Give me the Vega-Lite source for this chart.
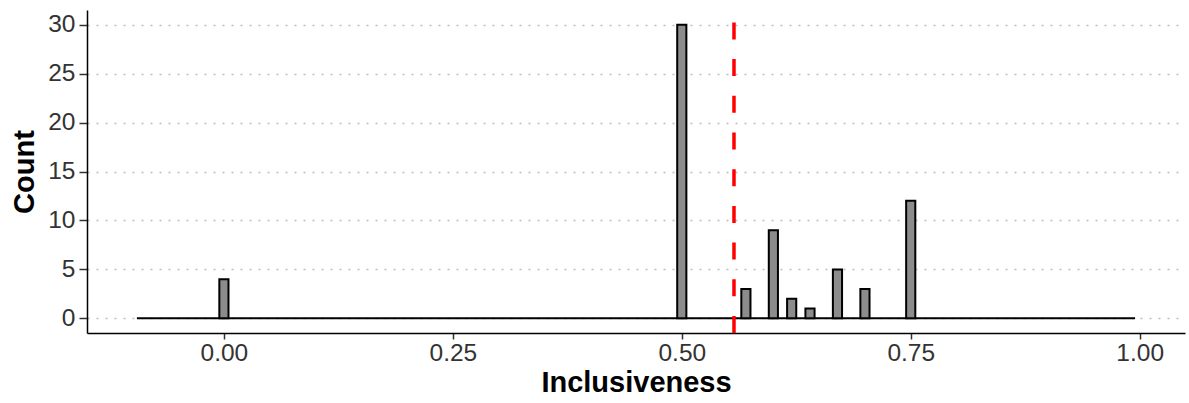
{
  "$schema": "https://vega.github.io/schema/vega-lite/v6.json",
  "width": 1098,
  "height": 323,
  "autosize": "none",
  "padding": {"left": 87, "top": 10, "right": 4, "bottom": 70},
  "config": {
    "view": {"stroke": null},
    "font": "Liberation Sans",
    "axis": {
      "domainColor": "black",
      "domainWidth": 1.5,
      "tickColor": "#333333",
      "tickWidth": 1.5,
      "labelFont": "Liberation Sans",
      "labelFontSize": 24.5,
      "labelColor": "#333333",
      "titleFont": "Liberation Sans",
      "titleFontSize": 29,
      "titleFontWeight": "bold",
      "titleColor": "black"
    }
  },
  "datasets": {
    "bins": [
      {"bin_start": -0.005, "bin_end": 0.005, "count": 4},
      {"bin_start": 0.495, "bin_end": 0.505, "count": 30},
      {"bin_start": 0.565, "bin_end": 0.575, "count": 3},
      {"bin_start": 0.595, "bin_end": 0.605, "count": 9},
      {"bin_start": 0.615, "bin_end": 0.625, "count": 2},
      {"bin_start": 0.635, "bin_end": 0.645, "count": 1},
      {"bin_start": 0.665, "bin_end": 0.675, "count": 5},
      {"bin_start": 0.695, "bin_end": 0.705, "count": 3},
      {"bin_start": 0.745, "bin_end": 0.755, "count": 12}
    ],
    "range": [{"bin_start": -0.095, "bin_end": 0.995, "count": 0}],
    "mean": [{"mean": 0.557}]
  },
  "layer": [
    {
      "data": {"name": "range"},
      "mark": {"type": "rule", "stroke": "black", "strokeWidth": 2},
      "encoding": {
        "x": {
          "field": "bin_start",
          "type": "quantitative",
          "scale": {"domain": [-0.1495, 1.0495], "nice": false, "zero": false},
          "axis": {
            "title": "Inclusiveness",
            "values": [0, 0.25, 0.5, 0.75, 1],
            "format": ".2f",
            "grid": false,
            "tickSize": 6,
            "labelPadding": 2,
            "titlePadding": 4
          }
        },
        "x2": {"field": "bin_end"},
        "y": {
          "field": "count",
          "type": "quantitative",
          "scale": {"domain": [-1.5, 31.5], "nice": false, "zero": false},
          "axis": {
            "title": "Count",
            "values": [0, 5, 10, 15, 20, 25, 30],
            "grid": true,
            "gridColor": "#bdbdbd",
            "gridDash": [2, 7],
            "gridWidth": 1.5,
            "tickSize": 8,
            "labelPadding": 4,
            "titlePadding": 8
          }
        }
      }
    },
    {
      "data": {"name": "bins"},
      "mark": {"type": "rect", "fill": "#8c8c8c", "stroke": "black", "strokeWidth": 2},
      "encoding": {
        "x": {"field": "bin_start", "type": "quantitative"},
        "x2": {"field": "bin_end"},
        "y": {"field": "count", "type": "quantitative"},
        "y2": {"datum": 0}
      }
    },
    {
      "data": {"name": "mean"},
      "mark": {"type": "rule", "stroke": "#ff0000", "strokeWidth": 3.5, "strokeDash": [17, 19.7]},
      "encoding": {
        "x": {"field": "mean", "type": "quantitative"},
        "y": {"datum": -1.5},
        "y2": {"datum": 31.5}
      }
    }
  ]
}
